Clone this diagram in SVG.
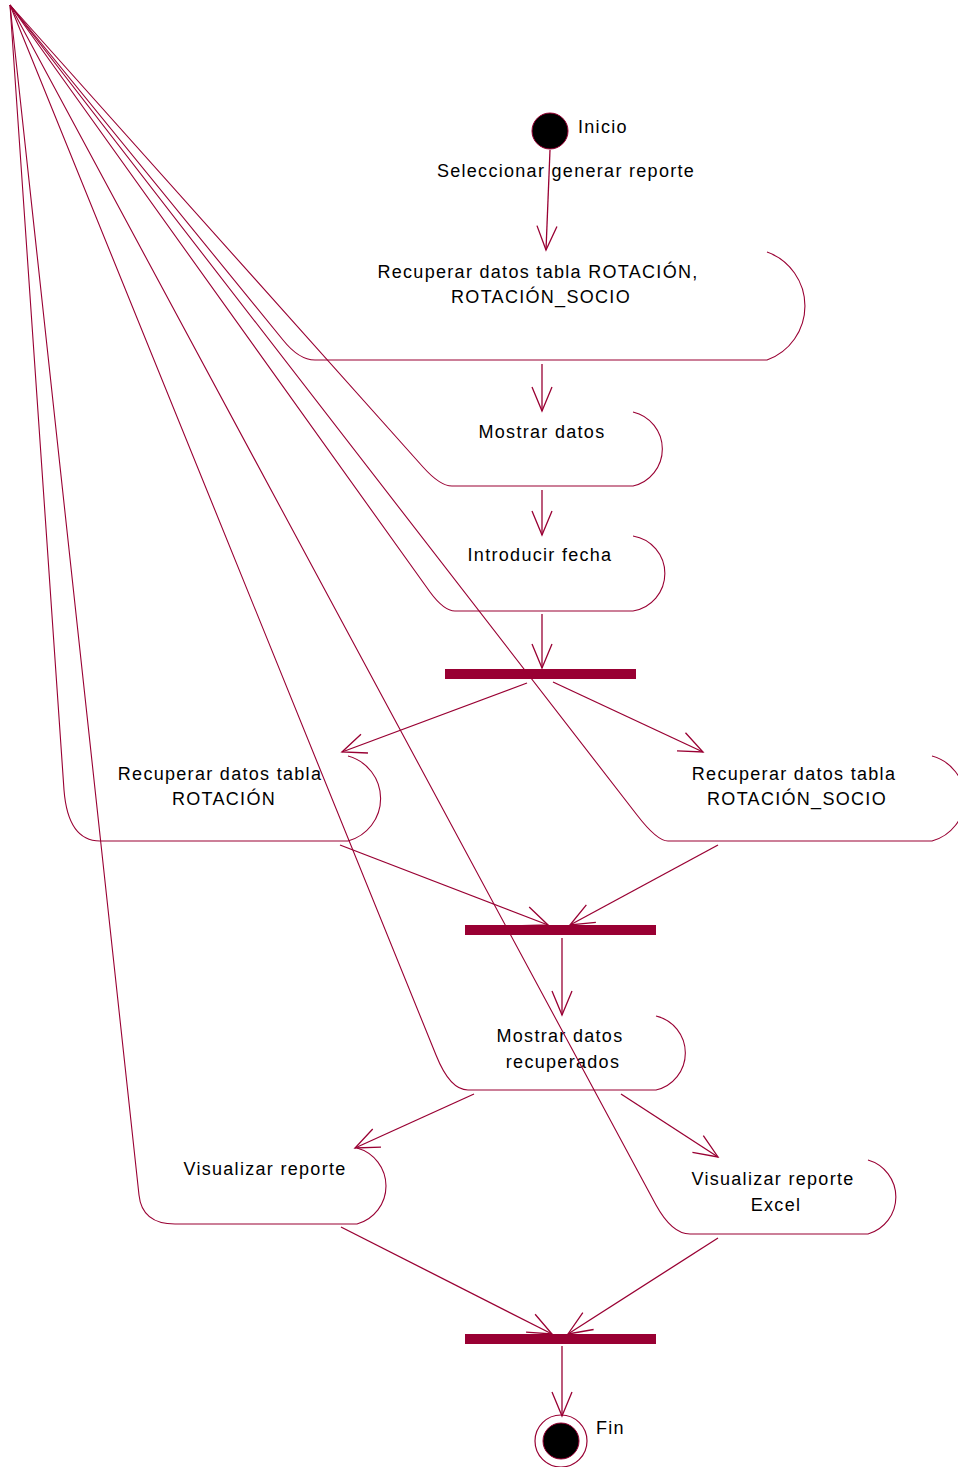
<svg xmlns="http://www.w3.org/2000/svg" width="958" height="1467" viewBox="0 0 958 1467">
<style>
.n{fill:none;stroke:#990033;stroke-width:1.1}
.e{fill:none;stroke:#990033;stroke-width:1.3;marker-end:url(#arr)}
.bar{fill:#990033}
text{font-family:"Liberation Sans",Arial,sans-serif;font-size:18px;letter-spacing:1.3px;fill:#000}
.c{text-anchor:middle}
</style>
<defs>
<marker id="arr" markerUnits="userSpaceOnUse" markerWidth="30" markerHeight="24" refX="26" refY="11" orient="auto" viewBox="0 0 30 22">
<path d="M2,1 L26,11 L2,21" fill="none" stroke="#990033" stroke-width="1.3"/>
</marker>
</defs>
<rect width="958" height="1467" fill="#fff"/>

<g id="start">
<circle cx="550" cy="131" r="18" fill="#000" stroke="#990033" stroke-width="1"/>
<text x="578" y="133">Inicio</text>
</g>

<g id="n1">
<path class="n" d="M10,5 L283,340 Q299,360 315,360 L767,360 A57.4,57.4 0 0 0 767,252"/>
<text class="c" x="538" y="278">Recuperar datos tabla ROTACIÓN,</text>
<text class="c" x="541" y="303">ROTACIÓN_SOCIO</text>
</g>

<g id="n2">
<path class="n" d="M10,5 L423,467 Q440,486 452,486 L633,486 A38,38 0 0 0 633,412"/>
<text class="c" x="542" y="438">Mostrar datos</text>
</g>

<g id="n3">
<path class="n" d="M10,5 L430,592 Q444,611 455,611 L633,611 A38,38 0 0 0 633,536"/>
<text class="c" x="540" y="561">Introducir fecha</text>
</g>

<g id="bar1"><rect class="bar" x="445" y="669" width="191" height="10"/></g>

<g id="n4">
<path class="n" d="M10,5 L64,790 Q68,841 100,841 L348,841 A44,44 0 0 0 348,756"/>
<text class="c" x="220" y="780">Recuperar datos tabla</text>
<text class="c" x="224" y="805">ROTACIÓN</text>
</g>

<g id="n5">
<path class="n" d="M10,5 L637,815 Q657,841 668,841 L932,841 A44,44 0 0 0 932,756"/>
<text class="c" x="794" y="780">Recuperar datos tabla</text>
<text class="c" x="797" y="805">ROTACIÓN_SOCIO</text>
</g>

<g id="bar2"><rect class="bar" x="465" y="925" width="191" height="10"/></g>

<g id="n6">
<path class="n" d="M10,5 L436,1055 Q450,1090 468,1090 L656,1090 A38,38 0 0 0 656,1016"/>
<text class="c" x="560" y="1042">Mostrar datos</text>
<text class="c" x="563" y="1068">recuperados</text>
</g>

<g id="n7">
<path class="n" d="M10,5 L139,1195 Q142,1224 175,1224 L357,1224 A39.4,39.4 0 0 0 357,1148"/>
<text class="c" x="265" y="1175">Visualizar reporte</text>
</g>

<g id="n8">
<path class="n" d="M10,5 L656,1205 Q672,1234 690,1234 L868,1234 A38.5,38.5 0 0 0 868,1160"/>
<text class="c" x="773" y="1185">Visualizar reporte</text>
<text class="c" x="776" y="1211">Excel</text>
</g>

<g id="bar3"><rect class="bar" x="465" y="1334" width="191" height="10"/></g>

<g id="end">
<circle cx="561" cy="1441" r="26" fill="#fff" stroke="#990033" stroke-width="1.2"/>
<circle cx="561" cy="1441" r="18" fill="#000" stroke="#990033" stroke-width="1"/>
<text x="596" y="1434">Fin</text>
</g>

<g id="connectors">
<path class="e" d="M550,150 L546,250"/>
<path class="e" d="M542,364 L542,411"/>
<path class="e" d="M542,490 L542,535"/>
<path class="e" d="M542,614 L542,668"/>
<path class="e" d="M527,683 L342,752"/>
<path class="e" d="M553,682 L703,752"/>
<path class="e" d="M340,845 L548,925"/>
<path class="e" d="M718,845 L570,925"/>
<path class="e" d="M562,938 L562,1015"/>
<path class="e" d="M474,1094 L355,1148"/>
<path class="e" d="M621,1094 L718,1157"/>
<path class="e" d="M341,1227 L552,1334"/>
<path class="e" d="M718,1238 L568,1334"/>
<path class="e" d="M562,1346 L562,1416"/>
</g>
<text class="c" x="566" y="177">Seleccionar generar reporte</text>
</svg>
